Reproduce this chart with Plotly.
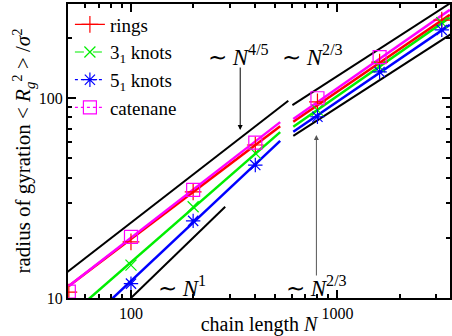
import numpy as np
import plotly.graph_objects as go

# ---- data ----
N_vals = [50, 100, 200, 400, 800, 1600, 3200]
rings = [10.7, 19.1, 33.9, 58.2, 95.7, 151, 245]
knots31 = [None, 14.6, 28.6, 53, 87, 143, 238]
knots51 = [None, 11.8, 24.3, 46.2, 80.6, 135, 219]
catenane = [10.75, 20.2, 34.7, 59.8, 99.7, 160, None]

# tick labels
x_major = [100, 1000]
x_minor = [60, 70, 80, 90, 200, 300, 400, 500, 600, 700, 800, 900, 2000, 3000]
y_major = [10, 100]
y_minor = [20, 30, 40, 50, 60, 70, 80, 90, 200]

# fits: log10 prefactor and exponent, left (N<~530) and right (N>~610) regimes
fit_names = ["rings", "knots31", "knots51", "catenane"]
fit_colors = ["#ff0000", "#00ee00", "#0000ff", "#ff00ff"]
fit_left_logA = [-0.2648, -0.621, -0.855, -0.2987]
fit_left_b = [0.78, 0.90, 0.97, 0.80]
fit_right_logA = [-0.0826, -0.1495, -0.1326, -0.111]
fit_right_b = [0.705, 0.72, 0.705, 0.72]
left_range = [50, 528]
right_range = [611, 3500]

# guide power laws (black): logA, exponent, N range
guide_logA = [-0.2237, -1.0, 0.11, -0.047]
guide_b = [0.8, 1.0, 2 / 3, 2 / 3]
guide_range = [[49, 578], [100, 286], [605, 3600], [611, 3600]]

serif = "Liberation Serif"
fig = go.Figure()


def powerline(logA, b, rng, n=40):
    N = np.logspace(np.log10(rng[0]), np.log10(rng[1]), n)
    return N, 10 ** logA * N ** b


# guide lines
for la, b, rng in zip(guide_logA, guide_b, guide_range):
    x, y = powerline(la, b, rng)
    fig.add_trace(go.Scatter(x=x, y=y, mode="lines", line=dict(color="black", width=2),
                             showlegend=False, hoverinfo="skip"))

# fit lines
for i in [2, 1, 0, 3]:
    for la, b, rng in [(fit_left_logA[i], fit_left_b[i], left_range),
                       (fit_right_logA[i], fit_right_b[i], right_range)]:
        x, y = powerline(la, b, rng)
        fig.add_trace(go.Scatter(x=x, y=y, mode="lines",
                                 line=dict(color=fit_colors[i], width=2.5),
                                 showlegend=False, hoverinfo="skip"))

series = [
    ("rings", rings, "#ff0000", "cross-thin", 12, "solid"),
    ("3<sub>1</sub> knots", knots31, "#00ee00", "x-thin", 11, "dash"),
    ("5<sub>1</sub> knots", knots51, "#0000ff", "asterisk", 12, "dot"),
    ("catenane", catenane, "#ff00ff", "square-open", 13, "dot"),
]
for name, vals, col, sym, sz, dash in series:
    fig.add_trace(go.Scatter(x=N_vals, y=vals, mode="markers",
                             marker=dict(symbol=sym, size=sz, color=col,
                                         line=dict(color=col, width=1.2)),
                             showlegend=False))
for name, vals, col, sym, sz, dash in series:
    fig.add_trace(go.Scatter(x=[None], y=[None], mode="lines+markers", name=name,
                             line=dict(color=col, width=1.2, dash=dash),
                             marker=dict(symbol=sym, size=sz, color=col,
                                         line=dict(color=col, width=1.2))))

# invisible trace to hold the minor-tick overlay axes
fig.add_trace(go.Scatter(x=[100], y=[100], xaxis="x2", yaxis="y2", mode="markers",
                         marker=dict(opacity=0), showlegend=False, hoverinfo="skip"))

tfont = dict(family=serif, size=23, color="black")
ann = [
    dict(x=2.519, y=2.215, text="∼ <i>N</i><sup>4/5</sup>"),
    dict(x=2.879, y=2.215, text="∼ <i>N</i><sup>2/3</sup>"),
    dict(x=2.898, y=1.06, text="∼ <i>N</i><sup>2/3</sup>"),
    dict(x=2.248, y=1.06, text="∼ <i>N</i><sup>1</sup>"),
]
for a in ann:
    fig.add_annotation(x=a["x"], y=a["y"], xref="x", yref="y", text=a["text"],
                       showarrow=False, font=tfont)
# arrows
fig.add_annotation(x=2.529, y=1.84, ax=2.529, ay=2.16, xref="x", yref="y",
                   axref="x", ayref="y", text="", showarrow=True, arrowhead=2,
                   arrowsize=1, arrowwidth=1, arrowcolor="black")
fig.add_annotation(x=2.898, y=1.815, ax=2.898, ay=1.105, xref="x", yref="y",
                   axref="x", ayref="y", text="", showarrow=True, arrowhead=2,
                   arrowsize=1, arrowwidth=1, arrowcolor="#555555")

xr = [1.695, 3.545]
yr = [1.0, 2.47]
axis_common = dict(type="log", showgrid=False, zeroline=False, showline=True,
                   linecolor="black", linewidth=2, mirror="ticks",
                   ticks="inside", ticklen=8, tickwidth=1.5, tickcolor="black",
                   tickfont=dict(family=serif, size=16, color="black"))
fig.update_layout(
    xaxis=dict(**axis_common, range=xr, tickmode="array", tickvals=x_major,
               ticktext=[str(v) for v in x_major],
               title=dict(text="chain length <i>N</i>", standoff=4,
                          font=dict(family=serif, size=20, color="black"))),
    yaxis=dict(**axis_common, range=yr, tickmode="array", tickvals=y_major,
               ticktext=[str(v) for v in y_major],
               title=dict(text="radius of gyration &lt; <i>R</i><sub><i>g</i></sub><sup>2</sup> &gt; /<i>σ</i><sup>2</sup>",
                          standoff=2,
                          font=dict(family=serif, size=21, color="black"))),
    xaxis2=dict(type="log", overlaying="x", anchor="y", side="bottom", range=xr,
                tickmode="array", tickvals=x_minor, showticklabels=False,
                ticks="inside", ticklen=4, tickwidth=1.5, tickcolor="black",
                showline=False, mirror="ticks", showgrid=False, zeroline=False),
    yaxis2=dict(type="log", overlaying="y", anchor="x", side="left", range=yr,
                tickmode="array", tickvals=y_minor, showticklabels=False,
                ticks="inside", ticklen=4, tickwidth=1.5, tickcolor="black",
                showline=False, mirror="ticks", showgrid=False, zeroline=False),
    width=452, height=336,
    font=dict(family=serif, color="black"),
    margin=dict(l=68, r=2, t=4, b=38, autoexpand=False),
    plot_bgcolor="white", paper_bgcolor="white",
    legend=dict(x=0.005, y=0.995, xanchor="left", yanchor="top",
                bgcolor="rgba(0,0,0,0)", font=dict(family=serif, size=19, color="black"),
                tracegroupgap=0, itemwidth=30),
)
fig.write_html("out.html", config={"displayModeBar": False},
               post_script="document.body.style.margin='0px';document.body.style.padding='0px';")
